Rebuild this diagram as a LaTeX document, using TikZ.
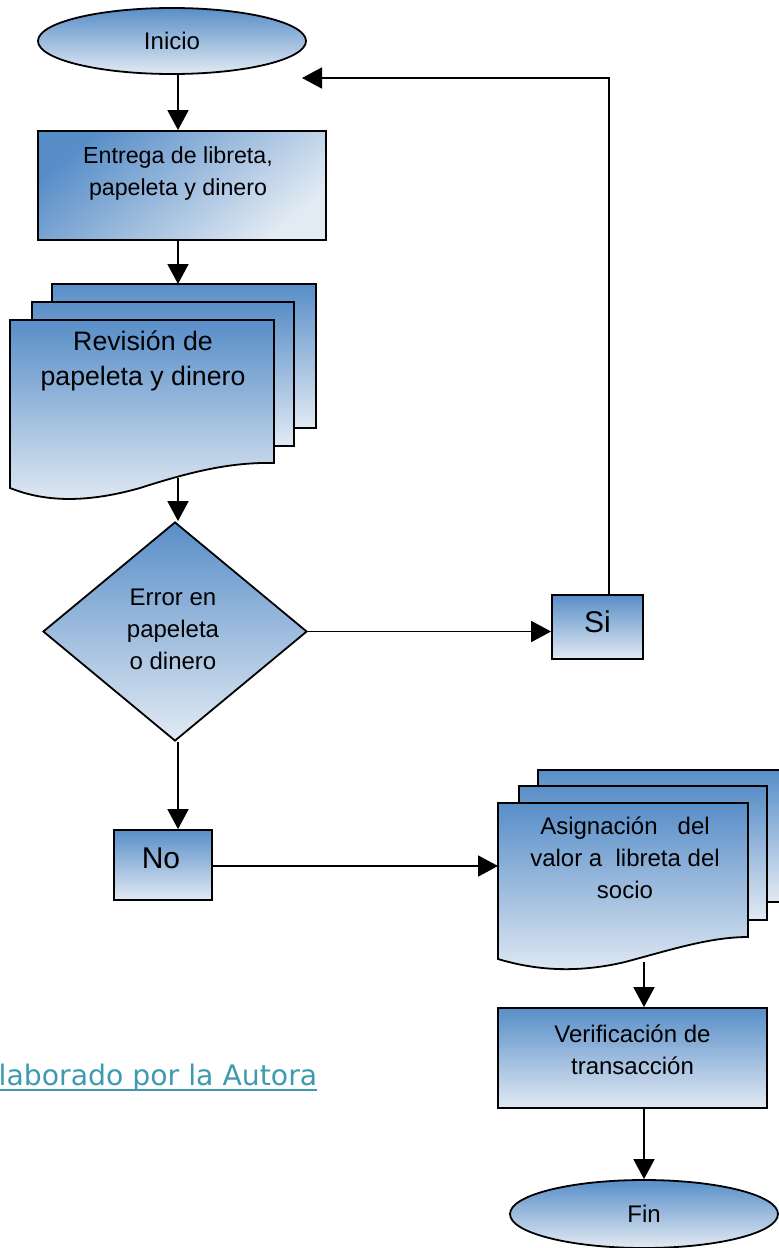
\documentclass[tikz,border=0pt]{standalone}
\usepackage{fontspec}
\setmainfont{Liberation Sans}
\newfontfamily\capfont{DejaVu Sans}
\usetikzlibrary{shapes.geometric,arrows.meta,calc}
\definecolor{shadedk}{RGB}{88,142,200}
\definecolor{shadelt}{RGB}{226,234,243}
\definecolor{capcol}{RGB}{62,154,176}

\begin{document}
\begin{tikzpicture}[x=1pt,y=-1pt,
  every node/.style={inner sep=0pt},
  edge/.style={line width=1.8pt, -{Triangle[length=20pt,width=21pt]}},
  fillgrad/.style={top color=shadedk, bottom color=shadelt, draw=black, line width=1.8pt},
  lbl/.style={align=center, font=\fontsize{24}{32}\selectfont},
  midlbl/.style={align=center, font=\fontsize{26.7}{35}\selectfont},
  biglbl/.style={align=center, font=\fontsize{30}{36}\selectfont},
]
\useasboundingbox (0,0) rectangle (779,1248);

% guide columns for the vertical connectors
\coordinate (colA) at (178,0);
\coordinate (colB) at (644,0);

% start
\node[ellipse, fillgrad, minimum width=268pt, minimum height=66pt, lbl] (inicio) at (172,41) {Inicio};

% first process box
\node[rectangle, fillgrad, shading angle=40, minimum width=288pt, minimum height=109pt] (entrega) at (182,185.5) {};
\node[lbl, font=\fontsize{23.2}{32}\selectfont] (entregatxt) at (178,173) {Entrega de libreta,\\papeleta y dinero};

% stacked documents: review
\path[fillgrad] (52,284) rectangle (316,428);
\path[fillgrad] (32,302) rectangle (294,446);
\path[fillgrad] (10,320) -- (274,320) -- (274,463)
  .. controls (230,462) and (190,472) .. (140,488)
  .. controls (80,505) and (40,500) .. (10,488) -- cycle;
\node[midlbl] (revision) at (143,361) {Revisión de\\papeleta y dinero};
\coordinate (revtop) at (178,284);
\coordinate (revbot) at (178,478);

% decision
\node[diamond, fillgrad, minimum width=264pt, minimum height=219pt] (dia) at (175,631.5) {};
\node[lbl] (diatxt) at (173,629) {Error en\\papeleta\\o dinero};

% yes / no boxes
\node[rectangle, fillgrad, minimum width=91pt, minimum height=64pt] (si) at (597.5,627) {};
\node[biglbl] (sitxt) at (597.5,622) {Si};
\node[rectangle, fillgrad, minimum width=98pt, minimum height=70pt] (no) at (163,865) {};
\node[biglbl] (notxt) at (161,858) {No};

% stacked documents: assignment
\path[fillgrad] (538,770) rectangle (800,902);
\path[fillgrad] (519,786) rectangle (767,920);
\path[fillgrad] (498,803) -- (748,803) -- (748,937)
  .. controls (710,937) and (670,950) .. (625,962)
  .. controls (570,975) and (528,968) .. (498,959) -- cycle;
\node[lbl] (asign) at (625,857.5) {Asignación \ \ del\\valor a \ libreta del\\socio};
\coordinate (asignleft) at (498,866);
\coordinate (asignbot) at (644,962);

% verification box
\node[rectangle, fillgrad, minimum width=269pt, minimum height=100pt] (verif) at (632.5,1058) {};
\node[lbl] (veriftxt) at (632.5,1050) {Verificación de\\transacción};

% end
\node[ellipse, fillgrad, minimum width=268pt, minimum height=68pt, lbl] (fin) at (644,1214) {Fin};

% caption
\node[anchor=base west, text=capcol, font=\capfont\fontsize{28.3}{33}\selectfont] (cap) at (-1.5,1085) {laborado por la Autora};
\draw[capcol, line width=2pt] ([yshift=-4.5pt]cap.base west) -- ([yshift=-4.5pt]cap.base east);

% connectors
\draw[edge] (inicio.south -| colA) -- (entrega.north -| colA);
\draw[edge] (entrega.south -| colA) -- (revtop);
\draw[edge] (revbot) -- (dia.north -| colA);
\draw[edge] (dia.east) -- (dia.east -| si.west);
\coordinate (corner) at (609,78);
\coordinate (ret) at (302,78);
\draw[edge] (si.north -| corner) -- (corner) -- (ret);
\draw[edge] (dia.south -| colA) -- (no.north -| colA);
\draw[edge] (no.east |- asignleft) -- (asignleft);
\draw[edge] (asignbot) -- (verif.north -| colB);
\draw[edge] (verif.south -| colB) -- (fin.north -| colB);
\end{tikzpicture}
\end{document}
